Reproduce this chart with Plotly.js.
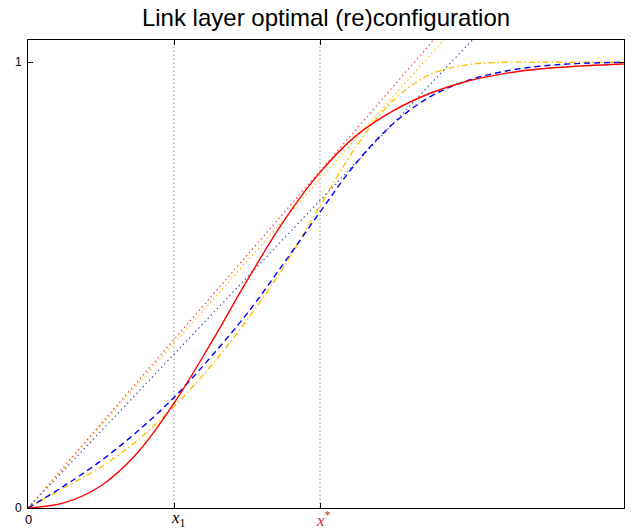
<!DOCTYPE html>
<html>
<head>
<meta charset="utf-8">
<script src="https://cdn.plot.ly/plotly-3.0.1.min.js"></script>
<style>html,body{margin:0;padding:0;background:#fff;}</style>
</head>
<body>
<div id="chart" style="width:634px;height:529px;"></div>
<script>
// Red solid curve
const xRed = [0, 0.25, 0.5, 0.75, 1.0, 1.25, 1.5, 1.75, 2.0, 2.25, 2.5, 2.75, 3.0, 3.25, 3.5, 3.75, 4.08];
const yRed = [0, 0.012, 0.050, 0.124, 0.235, 0.368, 0.510, 0.643, 0.753, 0.836, 0.891, 0.930, 0.957, 0.974, 0.985, 0.991, 0.996];
// Blue dashed curve
const xBlue = [0, 0.25, 0.5, 0.75, 1.0, 1.25, 1.5, 1.75, 2.0, 2.25, 2.5, 2.75, 3.0, 3.25, 3.5, 3.75, 4.08];
const yBlue = [0, 0.050, 0.106, 0.172, 0.248, 0.338, 0.436, 0.548, 0.664, 0.775, 0.862, 0.922, 0.958, 0.979, 0.991, 0.997, 1.0];
// Orange dash-dot curve
const xOrange = [0, 0.25, 0.5, 0.75, 1.0, 1.25, 1.5, 1.75, 2.0, 2.25, 2.5, 2.75, 3.0, 3.25, 3.5, 4.08];
const yOrange = [0, 0.046, 0.092, 0.152, 0.228, 0.318, 0.422, 0.540, 0.678, 0.812, 0.914, 0.972, 0.994, 1.0, 1.0, 1.0];
// Tangent lines from the origin (dotted)
const tangentX = [0, 4.08];
const slopeRed = 0.378, slopeBlue = 0.345, slopeOrange = 0.369;
// Axes
const xTickVals = [0, 1, 2];
const xTickText = ['0', '<i>x</i><sub>1</sub>', '<i>x</i><sup>*</sup>'];
const xTickColors = ['#000', '#000', '#cc2a2a'];
const yTickVals = [0, 1];
const yTickText = ['0', '1'];
const markers = [1, 2];
const xMax = 4.082, yMax = 1.05;

const traces = [];
markers.forEach(m => traces.push({x: [m, m], y: [0, yMax], mode: 'lines', line: {color: '#a8a8a8', width: 1.2, dash: '1.5px,2.5px'}, hoverinfo: 'skip'}));
traces.push({x: tangentX, y: tangentX.map(v => v * slopeRed), mode: 'lines', line: {color: '#ff4040', width: 1.2, dash: '1.5px,3px'}});
traces.push({x: tangentX, y: tangentX.map(v => v * slopeOrange), mode: 'lines', line: {color: '#ffc000', width: 1.2, dash: '1.5px,3px'}});
traces.push({x: tangentX, y: tangentX.map(v => v * slopeBlue), mode: 'lines', line: {color: '#5050b0', width: 1.2, dash: '1.5px,3px'}});
traces.push({x: xOrange, y: yOrange, mode: 'lines', line: {color: '#ffbf00', width: 1.4, dash: '6px,3px,1.5px,3px', shape: 'spline', smoothing: 1}});
traces.push({x: xBlue, y: yBlue, mode: 'lines', line: {color: '#0000ff', width: 1.4, dash: '6px,4px', shape: 'spline', smoothing: 1}});
traces.push({x: xRed, y: yRed, mode: 'lines', line: {color: '#ff0000', width: 1.4, shape: 'spline', smoothing: 1}});

const annotations = xTickVals.map((v, i) => ({
  x: v, xref: 'x', y: 0, yref: 'paper', yanchor: 'middle', xanchor: 'center', yshift: -11,
  xshift: i === 1 ? 4 : (i === 2 ? 3 : 0),
  text: xTickText[i], showarrow: false,
  font: i === 0 ? {family: 'Liberation Sans, Arial, sans-serif', size: 13, color: xTickColors[i]}
                : {family: 'Liberation Serif, serif', size: 17, color: xTickColors[i]}
}));

const layout = {
  width: 634, height: 529,
  margin: {l: 28, r: 10, t: 40, b: 21, pad: 0},
  paper_bgcolor: '#fff', plot_bgcolor: '#fff',
  showlegend: false,
  font: {family: 'Liberation Sans, Arial, sans-serif', color: '#000', size: 12},
  title: {text: 'Link layer optimal (re)configuration', font: {size: 24, family: 'Liberation Sans, Arial, sans-serif', color: '#000'}, x: 0.5, xref: 'paper', y: 0.966, yref: 'container', yanchor: 'middle'},
  annotations: annotations,
  xaxis: {range: [0, xMax], tickvals: xTickVals, showticklabels: false, ticks: 'inside', ticklen: 5, tickcolor: '#000',
          showline: true, linecolor: '#000', linewidth: 1, mirror: 'ticks', showgrid: false, zeroline: false, automargin: false, fixedrange: true},
  yaxis: {range: [0, yMax], tickvals: yTickVals, ticktext: yTickText, ticks: 'inside', ticklen: 5, tickcolor: '#000',
          tickfont: {size: 12}, ticklabelstandoff: 3,
          showline: true, linecolor: '#000', linewidth: 1, mirror: 'ticks', showgrid: false, zeroline: false, automargin: false, fixedrange: true}
};
Plotly.newPlot('chart', traces, layout, {displayModeBar: false, staticPlot: true});
</script>
</body>
</html>
